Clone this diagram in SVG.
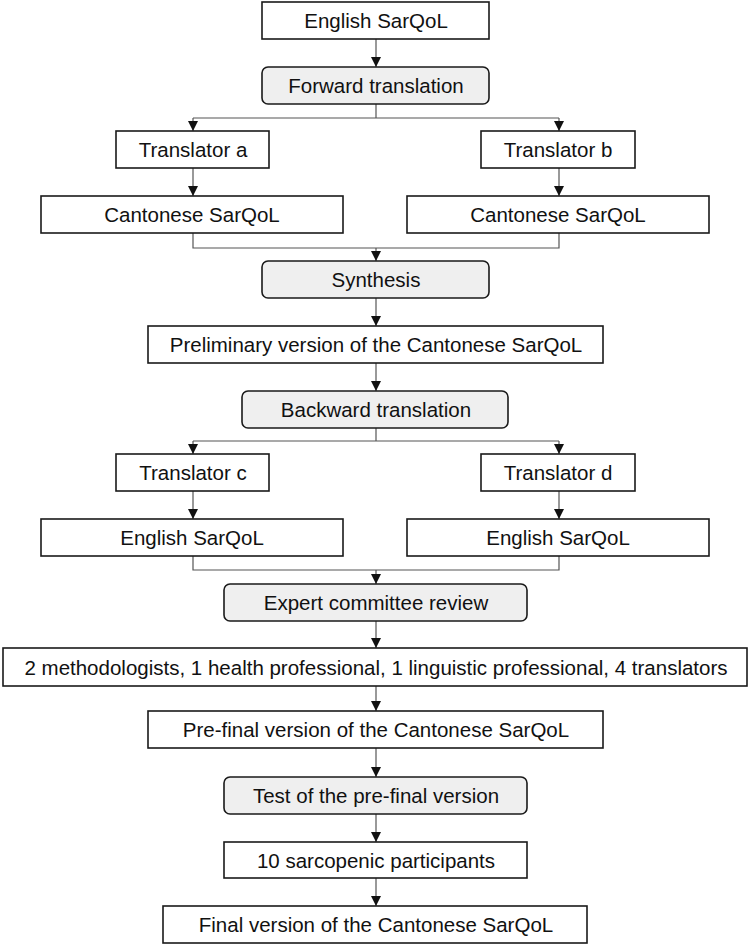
<svg xmlns="http://www.w3.org/2000/svg" width="750" height="946" viewBox="0 0 750 946">
<defs>
<marker id="arr" viewBox="0 0 10 10" refX="10" refY="5" markerWidth="10" markerHeight="10" markerUnits="userSpaceOnUse" orient="auto">
<path d="M0,0 L10,5 L0,10 Z" fill="#111"/>
</marker>
<style>
.box{fill:#fff;stroke:#1a1a1a;stroke-width:1.6}
.rbox{fill:#efefef;stroke:#1a1a1a;stroke-width:1.6}
.t{font-family:"Liberation Sans",Arial,sans-serif;font-size:20.5px;fill:#111;text-anchor:middle;dominant-baseline:central}
.c{fill:none;stroke:#555;stroke-width:1.2}
.ca{fill:none;stroke:#555;stroke-width:1.2;marker-end:url(#arr)}
</style>
</defs>
<rect width="750" height="946" fill="#fff"/>
<g id="connectors">
<path class="ca" d="M376,39 V67"/>
<path class="c" d="M376,104 V118 M193,118 H559"/>
<path class="ca" d="M193,118 V131"/>
<path class="ca" d="M559,118 V131"/>
<path class="ca" d="M193,168 V196"/>
<path class="ca" d="M559,168 V196"/>
<path class="c" d="M193,233 V248 H559 V233"/>
<path class="ca" d="M376,248 V261"/>
<path class="ca" d="M376,298 V326"/>
<path class="ca" d="M376,363 V391"/>
<path class="c" d="M376,428 V441 M193,441 H559"/>
<path class="ca" d="M193,441 V454"/>
<path class="ca" d="M559,441 V454"/>
<path class="ca" d="M193,491 V519"/>
<path class="ca" d="M559,491 V519"/>
<path class="c" d="M193,556 V570 H559 V556"/>
<path class="ca" d="M376,570 V584"/>
<path class="ca" d="M376,621 V648"/>
<path class="ca" d="M376,686 V711"/>
<path class="ca" d="M376,748 V777"/>
<path class="ca" d="M376,814 V842"/>
<path class="ca" d="M376,878 V906"/>
</g>
<g id="english1"><rect class="box" x="262" y="2" width="227" height="37"/><text class="t" x="376" y="20.5">English SarQoL</text></g>
<g id="forward"><rect class="rbox" x="262" y="67" width="227" height="37" rx="6"/><text class="t" x="376" y="85.5">Forward translation</text></g>
<g id="transA"><rect class="box" x="116" y="131" width="153" height="37"/><text class="t" x="193" y="149.5">Translator a</text></g>
<g id="transB"><rect class="box" x="481" y="131" width="154" height="37"/><text class="t" x="558" y="149.5">Translator b</text></g>
<g id="cantoA"><rect class="box" x="41" y="196" width="302" height="37"/><text class="t" x="192" y="214.5">Cantonese SarQoL</text></g>
<g id="cantoB"><rect class="box" x="407" y="196" width="302" height="37"/><text class="t" x="558" y="214.5">Cantonese SarQoL</text></g>
<g id="synthesis"><rect class="rbox" x="262" y="261" width="227" height="37" rx="6"/><text class="t" x="376" y="279.5">Synthesis</text></g>
<g id="preliminary"><rect class="box" x="148" y="326" width="455" height="37"/><text class="t" x="376" y="344.5">Preliminary version of the Cantonese SarQoL</text></g>
<g id="backward"><rect class="rbox" x="242" y="391" width="266" height="37" rx="6"/><text class="t" x="376" y="409.5">Backward translation</text></g>
<g id="transC"><rect class="box" x="116" y="454" width="153" height="37"/><text class="t" x="193" y="472.5">Translator c</text></g>
<g id="transD"><rect class="box" x="481" y="454" width="154" height="37"/><text class="t" x="558" y="472.5">Translator d</text></g>
<g id="englishC"><rect class="box" x="41" y="519" width="302" height="37"/><text class="t" x="192" y="537.5">English SarQoL</text></g>
<g id="englishD"><rect class="box" x="407" y="519" width="302" height="37"/><text class="t" x="558" y="537.5">English SarQoL</text></g>
<g id="expert"><rect class="rbox" x="224" y="584" width="303" height="37" rx="6"/><text class="t" x="376" y="602.5">Expert committee review</text></g>
<g id="members"><rect class="box" x="3" y="648" width="744" height="38"/><text class="t" x="376" y="667">2 methodologists, 1 health professional, 1 linguistic professional, 4 translators</text></g>
<g id="prefinal"><rect class="box" x="148" y="711" width="455" height="37"/><text class="t" x="376" y="729.5">Pre-final version of the Cantonese SarQoL</text></g>
<g id="test"><rect class="rbox" x="224" y="777" width="303" height="37" rx="6"/><text class="t" x="376" y="795.5">Test of the pre-final version</text></g>
<g id="participants"><rect class="box" x="224" y="842" width="303" height="36"/><text class="t" x="376" y="860">10 sarcopenic participants</text></g>
<g id="final"><rect class="box" x="163" y="906" width="424" height="37"/><text class="t" x="376" y="924.5">Final version of the Cantonese SarQoL</text></g>
</svg>
